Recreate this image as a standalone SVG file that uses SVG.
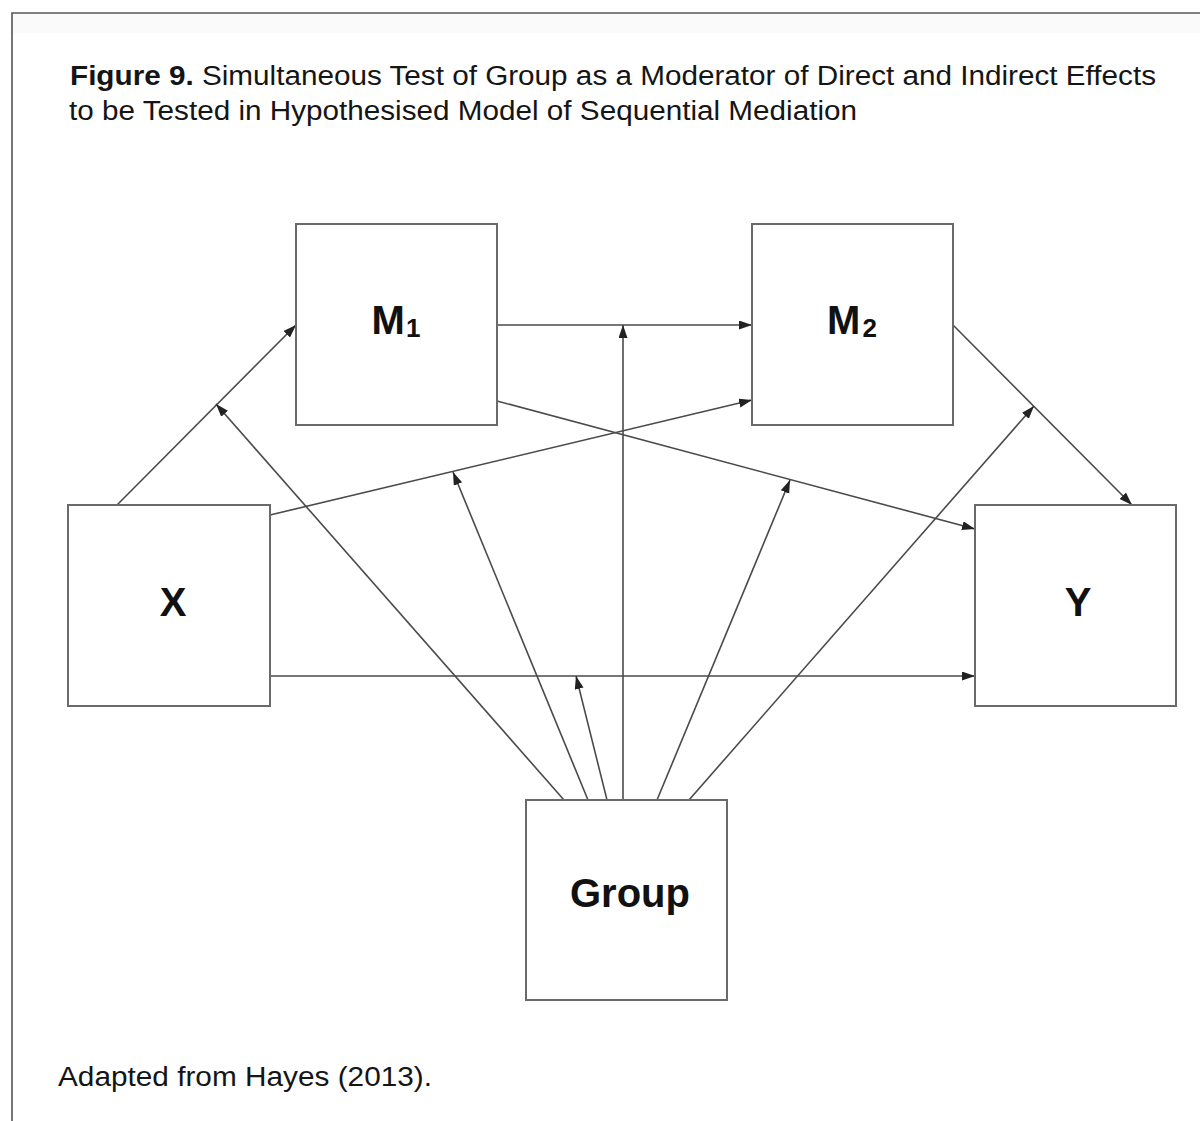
<svg xmlns="http://www.w3.org/2000/svg" width="1200" height="1121" viewBox="0 0 1200 1121">
  <style>
    .box { fill: #ffffff; stroke: #6a6a6a; stroke-width: 2; }
    .edge { fill: none; stroke: #4a4a4a; stroke-width: 1.6; marker-end: url(#arrow); }
    .label { font-family: "Liberation Sans", Arial, sans-serif; font-weight: bold; font-size: 40px; fill: #111111; text-anchor: middle; }
    .caption { font-family: "Liberation Sans", Arial, sans-serif; font-size: 27px; fill: #151515; }
  </style>
  <defs>
    <marker id="arrow" markerUnits="userSpaceOnUse" markerWidth="14" markerHeight="10" refX="13" refY="4.5" orient="auto">
      <path d="M0,0 L13,4.5 L0,9 z" fill="#222222"/>
    </marker>
  </defs>

  <rect x="0" y="0" width="1200" height="1121" fill="#ffffff"/>
  <!-- frame -->
  <rect x="13" y="14" width="1187" height="19" fill="#fafafa"/>
  <path d="M12,1121 L12,13 L1200,13" fill="none" stroke="#555555" stroke-width="1.6"/>

  <!-- title -->
  <text class="caption" x="70" y="85" textLength="1086" lengthAdjust="spacingAndGlyphs"><tspan font-weight="bold">Figure 9.</tspan> Simultaneous Test of Group as a Moderator of Direct and Indirect Effects</text>
  <text class="caption" x="69" y="120" textLength="788" lengthAdjust="spacingAndGlyphs">to be Tested in Hypothesised Model of Sequential Mediation</text>

  <!-- connectors -->
  <g id="connectors">
    <line class="edge" x1="117" y1="505" x2="296" y2="325"/>
    <line class="edge" x1="497" y1="325" x2="752" y2="325"/>
    <line class="edge" x1="270" y1="515" x2="752" y2="400"/>
    <line class="edge" x1="497" y1="401" x2="975" y2="529"/>
    <line class="edge" x1="953" y1="325" x2="1132" y2="505"/>
    <line class="edge" x1="270" y1="676" x2="975" y2="676"/>
    <!-- moderation paths from Group -->
    <line class="edge" x1="564" y1="800" x2="216" y2="404"/>
    <line class="edge" x1="588" y1="800" x2="453" y2="472"/>
    <line class="edge" x1="607" y1="800" x2="576" y2="676"/>
    <line class="edge" x1="623" y1="800" x2="623" y2="325"/>
    <line class="edge" x1="657" y1="800" x2="790" y2="480"/>
    <line class="edge" x1="689" y1="800" x2="1034" y2="406"/>
  </g>

  <!-- nodes -->
  <g id="node-m1">
    <rect class="box" x="296" y="224" width="201" height="201"/>
    <text class="label" x="396" y="334" font-size="39">M<tspan font-size="26" dx="1" dy="3">1</tspan></text>
  </g>
  <g id="node-m2">
    <rect class="box" x="752" y="224" width="201" height="201"/>
    <text class="label" x="852" y="334" font-size="39">M<tspan font-size="26" dx="2" dy="3">2</tspan></text>
  </g>
  <g id="node-x">
    <rect class="box" x="68" y="505" width="202" height="201"/>
    <text class="label" x="173" y="616" font-size="42">X</text>
  </g>
  <g id="node-y">
    <rect class="box" x="975" y="505" width="201" height="201"/>
    <text class="label" x="1078" y="616" font-size="42">Y</text>
  </g>
  <g id="node-group">
    <rect class="box" x="526" y="800" width="201" height="200"/>
    <text class="label" x="630" y="907">Group</text>
  </g>

  <!-- source note -->
  <text class="caption" x="58" y="1086" font-size="29" textLength="374" lengthAdjust="spacingAndGlyphs">Adapted from Hayes (2013).</text>
</svg>
